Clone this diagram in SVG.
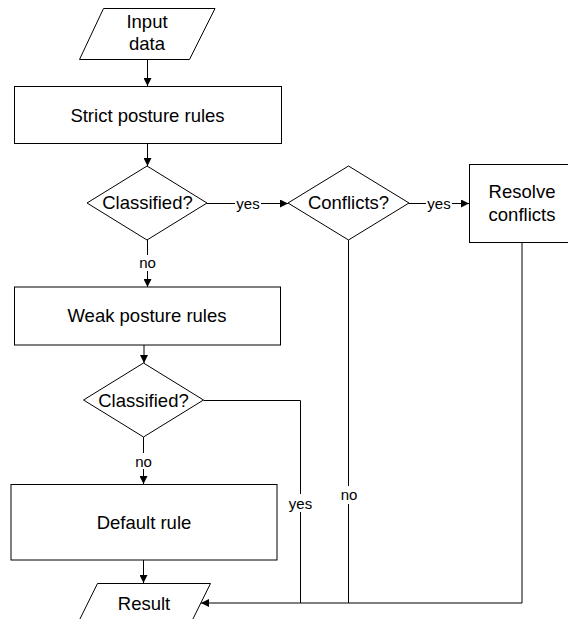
<svg xmlns="http://www.w3.org/2000/svg" width="568" height="619" viewBox="0 0 568 619">
  <style>
    .shape { fill: #ffffff; stroke: #000000; stroke-width: 1; }
    .t { font-family: "Liberation Sans", Arial, sans-serif; font-size: 18.5px; fill: #000000; text-anchor: middle; }
    .lbl { font-family: "Liberation Sans", Arial, sans-serif; font-size: 15px; fill: #000000; text-anchor: middle; }
    .conn { fill: none; stroke: #000000; stroke-width: 1; }
    .arr { marker-end: url(#ah); }
    .bg { fill: #ffffff; stroke: none; }
  </style>
  <defs>
    <marker id="ah" viewBox="0 0 10 10" refX="10" refY="5" markerWidth="9" markerHeight="8" markerUnits="userSpaceOnUse" orient="auto">
      <path d="M0,0 L10,5 L0,10 z" fill="#000000"/>
    </marker>
  </defs>
  <rect width="568" height="619" fill="#ffffff"/>

  <g id="connectors">
    <path class="conn arr" d="M147.5,59.5 L147.5,86"/>
    <path class="conn arr" d="M147.5,143.5 L147.5,166"/>
    <path class="conn arr" d="M207,203.5 L288,203.5"/>
    <path class="conn arr" d="M409,203.5 L469,203.5"/>
    <path class="conn arr" d="M147.5,240 L147.5,287"/>
    <path class="conn arr" d="M144,345 L144,363"/>
    <path class="conn arr" d="M143.5,437 L143.5,484"/>
    <path class="conn arr" d="M143.5,560 L143.5,583"/>
    <path class="conn arr" d="M203.5,400.5 L300.5,400.5 L300.5,603 L201,603"/>
    <path class="conn" d="M348.5,240 L348.5,603 L300.5,603"/>
    <path class="conn" d="M522,242.5 L522,603 L348.5,603"/>
    <rect class="bg" x="235" y="195" width="26" height="16"/>
    <text class="lbl" x="248" y="208.5">yes</text>
    <rect class="bg" x="426" y="195" width="26" height="16"/>
    <text class="lbl" x="439" y="208.5">yes</text>
    <rect class="bg" x="137" y="255" width="21" height="16"/>
    <text class="lbl" x="147.5" y="268">no</text>
    <rect class="bg" x="133" y="453" width="21" height="16"/>
    <text class="lbl" x="143.5" y="466.5">no</text>
    <rect class="bg" x="287" y="494" width="27" height="18"/>
    <text class="lbl" x="300.5" y="508.5">yes</text>
    <rect class="bg" x="338" y="486" width="21" height="18"/>
    <text class="lbl" x="349" y="500">no</text>
  </g>

  <g id="input">
    <polygon class="shape" points="103.5,8.5 215,8.5 189.5,59.5 79.5,59.5"/>
    <text class="t" x="147" y="28">Input</text>
    <text class="t" x="147" y="49.5">data</text>
  </g>

  <g id="strict">
    <rect class="shape" x="14.5" y="86.5" width="267" height="57"/>
    <text class="t" x="147.5" y="121.5">Strict posture rules</text>
  </g>

  <g id="classified1">
    <polygon class="shape" points="147,166 207,203 147,240 87,203"/>
    <text class="t" x="147.5" y="209">Classified?</text>
  </g>

  <g id="conflicts">
    <polygon class="shape" points="348.5,166 409,203 348.5,240 288,203"/>
    <text class="t" x="348.5" y="209">Conflicts?</text>
  </g>

  <g id="resolve">
    <rect class="shape" x="469.5" y="164.5" width="110" height="78"/>
    <text class="t" x="522" y="198">Resolve</text>
    <text class="t" x="522" y="221">conflicts</text>
  </g>

  <g id="weak">
    <rect class="shape" x="14.5" y="287" width="266" height="58"/>
    <text class="t" x="147" y="321.5">Weak posture rules</text>
  </g>

  <g id="classified2">
    <polygon class="shape" points="143.5,363 203.5,400 143.5,437 83.5,400"/>
    <text class="t" x="143.5" y="406.5">Classified?</text>
  </g>

  <g id="default">
    <rect class="shape" x="11" y="484.5" width="266" height="75.5"/>
    <text class="t" x="144" y="529">Default rule</text>
  </g>

  <g id="result">
    <polygon class="shape" points="97.5,583.5 210.5,583.5 185,635 72,635"/>
    <text class="t" x="144" y="610">Result</text>
  </g>
</svg>
